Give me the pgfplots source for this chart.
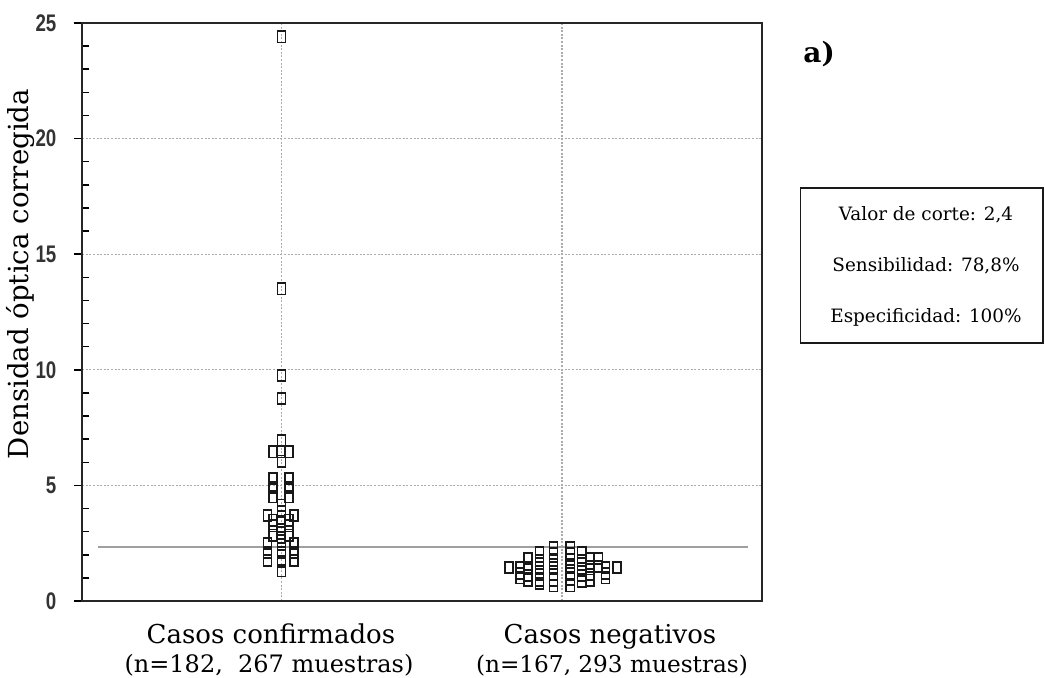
\documentclass[border=0pt]{standalone}
\usepackage{fontspec}
\usepackage{pgfplots}
\usepackage{pgfplotstable}
\pgfplotsset{compat=1.18}
\newfontfamily\ticksans{Liberation Sans}
\newfontfamily\lblfont{DejaVu Serif}

\pgfplotstableread{
x y
1 24.4
1 13.5
1 9.75
1 8.75
1 6.95
0.971 6.45
1 6.45
1.026 6.45
1 6.05
0.971 5.3
1.026 5.3
0.971 4.9
1.026 4.9
0.971 4.5
1.026 4.5
1 4.15
1 3.85
0.95 3.7
1.046 3.7
0.971 3.5
1.026 3.5
1 3.45
0.971 3.25
1.026 3.25
1 3.1
0.971 2.85
1.026 2.85
1 2.75
1 2.45
0.95 2.5
1.046 2.5
0.95 2.1
1.046 2.1
1 2.1
0.95 1.75
1.046 1.75
1 1.7
1 1.3
}\confirmados

\pgfplotstableread{
x y
1.81 1.45
1.85 1.45
1.85 1.2
1.85 1.0
1.88 1.85
1.88 1.45
1.88 1.1
1.88 0.9
1.92 2.1
1.92 1.75
1.92 1.45
1.92 1.15
1.92 0.9
1.92 0.75
1.97 2.3
1.97 2.05
1.97 1.75
1.97 1.45
1.97 1.15
1.97 0.9
1.97 0.65
2.03 2.3
2.03 2.05
2.03 1.8
2.03 1.5
2.03 1.2
2.03 0.95
2.03 0.65
2.07 2.1
2.07 1.75
2.07 1.4
2.07 1.1
2.07 0.85
2.10 1.85
2.10 1.5
2.10 1.15
2.10 0.9
2.13 1.85
2.13 1.5
2.155 1.45
2.155 1.2
2.155 1.0
2.195 1.45
}\negativos

\begin{document}
\begin{tikzpicture}
\useasboundingbox (-41.15pt,-38pt) rectangle (481.35pt,300.5pt);
\begin{axis}[
  at={(0pt,0pt)}, anchor=south west,
  scale only axis, width=339.7pt, height=289pt,
  xmin=0.29, xmax=2.712, ymin=0, ymax=25,
  xtick={1,2}, xticklabels={,,},
  xtick style={draw=none},
  ytick={0,5,...,25}, minor y tick num=4,
  ytick pos=left,
  tick align=outside,
  major tick length=4.2pt, minor tick length=-3.5pt,
  tick style={black, line width=0.75pt},
  axis line style={draw=black!85, line width=0.85pt},
  xmajorgrids, ymajorgrids,
  major grid style={gray!65, line width=0.55pt, dash pattern=on 1pt off 0.8pt},
  /pgf/number format/assume math mode=true,
  yticklabel style={font=\ticksans\bfseries\fontsize{12}{12}\selectfont, text=black!80, anchor=east, inner sep=0pt, xshift=-8.6pt, xscale=0.78},
  clip=false,
]
\addplot[gray!75, line width=1.1pt, forget plot] coordinates {(0.346,2.32) (2.663,2.32)};
\addplot[only marks, mark=square, mark size=2.8pt, mark options={xscale=0.72, line width=0.9pt, draw=black!90}] table[x=x,y=y] {\confirmados};
\addplot[only marks, mark=square, mark size=2.8pt, mark options={xscale=0.72, line width=0.9pt, draw=black!90}] table[x=x,y=y] {\negativos};
\end{axis}
\node[rotate=90, font=\lblfont\fontsize{13.8}{14}\selectfont, anchor=center] at (-30.65pt,163.5pt) {Densidad óptica corregida};
\node[font=\lblfont\fontsize{13}{14}\selectfont, anchor=base] at (94.35pt,-21pt) {Casos confirmados};
\node[font=\lblfont\fontsize{12}{13}\selectfont, anchor=base] at (93.35pt,-35.5pt) {(n=182,\ \ 267 muestras)};
\node[font=\lblfont\fontsize{13}{14}\selectfont, anchor=base] at (263.85pt,-21pt) {Casos negativos};
\node[font=\lblfont\fontsize{11.6}{13}\selectfont, anchor=base] at (264.85pt,-35.5pt) {(n=167, 293 muestras)};
\node[font=\lblfont\bfseries\fontsize{14}{14}\selectfont, anchor=base west, inner sep=0pt] at (360.35pt,269.5pt) {a)};
\draw[black!90, line width=0.75pt] (359.2pt,129pt) rectangle (480.35pt,206.5pt);
\node[font=\lblfont\fontsize{9.2}{10}\selectfont, anchor=base] at (421.85pt,190.5pt) {Valor de corte: 2,4};
\node[font=\lblfont\fontsize{9.2}{10}\selectfont, anchor=base] at (421.85pt,164.75pt) {Sensibilidad: 78,8\%};
\node[font=\lblfont\fontsize{9.2}{10}\selectfont, anchor=base] at (421.85pt,139.5pt) {Especificidad: 100\%};
\end{tikzpicture}
\end{document}
